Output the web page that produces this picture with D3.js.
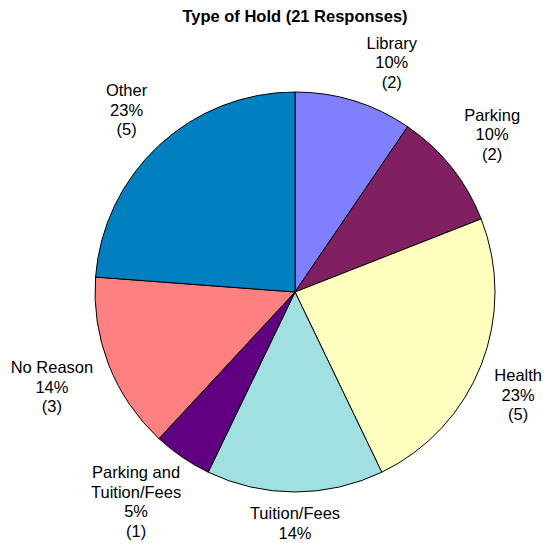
<!DOCTYPE html>
<html>
<head>
<meta charset="utf-8">
<script src="https://cdn.jsdelivr.net/npm/d3@7"></script>
<style>
  html, body { margin: 0; padding: 0; background: #fff; }
  svg { display: block; font-family: "Liberation Sans", Arial, sans-serif; }
</style>
</head>
<body>
<div id="chart"></div>
<script>
// data (clockwise from 12 o'clock)
const categories = ['Library', 'Parking', 'Health', 'Tuition/Fees', 'Parking and Tuition/Fees', 'No Reason', 'Other']
const counts = [2, 2, 5, 3, 1, 3, 5]
// percentages as printed on the chart
const percents = [10, 10, 23, 14, 5, 14, 23]
const colors = ['#8080ff', '#802060', '#ffffc0', '#a0e0e0', '#600080', '#ff8080', '#0080c0']
// how each category label breaks into lines
const labelLines = [['Library'], ['Parking'], ['Health'], ['Tuition/Fees'], ['Parking and', 'Tuition/Fees'], ['No Reason'], ['Other']]
const title = 'Type of Hold (21 Responses)'

const width = 543
const height = 543
const cx = 295
const cy = 292
const radius = 200
const lineH = 19.5
const gap = 12

const rows = categories.map((c, i) => ({
  name: c, value: counts[i], pct: percents[i], color: colors[i], lines: labelLines[i]
}))

const svg = d3.select('#chart').append('svg')
  .attr('width', width)
  .attr('height', height)

const titleText = svg.append('text')
  .attr('x', cx)
  .attr('y', 22)
  .attr('text-anchor', 'middle')
  .attr('font-size', 16.5)
  .attr('font-weight', 'bold')
  .text(title)
const tb = titleText.node().getBBox()
const titleBottom = tb.y + tb.height

const pie = d3.pie().sort(null).value(d => d.value)
const arc = d3.arc().innerRadius(0).outerRadius(radius)
const arcs = pie(rows)

const g = svg.append('g').attr('transform', `translate(${cx},${cy})`)

g.selectAll('path.slice')
  .data(arcs)
  .enter()
  .append('path')
  .attr('class', 'slice')
  .attr('d', arc)
  .attr('fill', d => d.data.color)
  .attr('stroke', '#000')
  .attr('stroke-width', 1)

// labels: name lines, percent, (count)
const labels = g.selectAll('text.label')
  .data(arcs)
  .enter()
  .append('text')
  .attr('class', 'label')
  .attr('text-anchor', 'middle')
  .attr('font-size', 16.5)
  .attr('fill', '#000')

labels.each(function (d) {
  const lines = d.data.lines.concat([d.data.pct + '%', '(' + d.data.value + ')'])
  const t = d3.select(this)
  lines.forEach((l, i) => {
    t.append('tspan').attr('x', 0).attr('dy', i === 0 ? 0 : lineH).text(l)
  })
  d.nLines = lines.length
})

function place (a, w, h) {
  const s = Math.sin(a)
  const c = -Math.cos(a)
  const dist = radius + gap + (w / 2) * Math.abs(s) + (h / 2) * Math.abs(c)
  return [dist * s, dist * c]
}

function fits (x, y, w, h) {
  return cx + x + w / 2 <= width - 1 && cx + x - w / 2 >= 1 && cy + y - h / 2 >= titleBottom + 8
}

// distance from the pie centre to the nearest point of a label box
function nearest (x, y, w, h) {
  const nx = Math.max(x - w / 2, Math.min(0, x + w / 2))
  const ny = Math.max(y - h / 2, Math.min(0, y + h / 2))
  return Math.hypot(nx, ny)
}

// place each label block outside the pie, nudged to stay on the page
labels.each(function (d) {
  const w = this.getBBox().width
  const h = d.nLines * lineH
  const mid = (d.startAngle + d.endAngle) / 2
  const dir = mid < Math.PI ? 1 : -1
  let [x, y] = place(mid, w, h)
  if (!fits(x, y, w, h)) {
    for (let k = 1; k < 30; k++) {
      const p = place(mid + dir * k * 0.01, w, h)
      if (fits(p[0], p[1], w, h)) { [x, y] = p; break }
    }
  }
  // too low: lift it, sliding sideways so it stays clear of the pie
  const over = cy + y + h / 2 - (height - 2)
  if (over > 0 && Math.abs(x) > 1) {
    const sx = Math.sign(x)
    for (let k = 0; k <= 20; k++) {
      if (nearest(x + sx * k, y - over, w, h) >= radius + 5) {
        x += sx * k
        y -= over
        break
      }
    }
  }
  const base = y - h / 2 + lineH * 0.78
  d3.select(this).attr('transform', `translate(${x},${base})`)
})
</script>
</body>
</html>
